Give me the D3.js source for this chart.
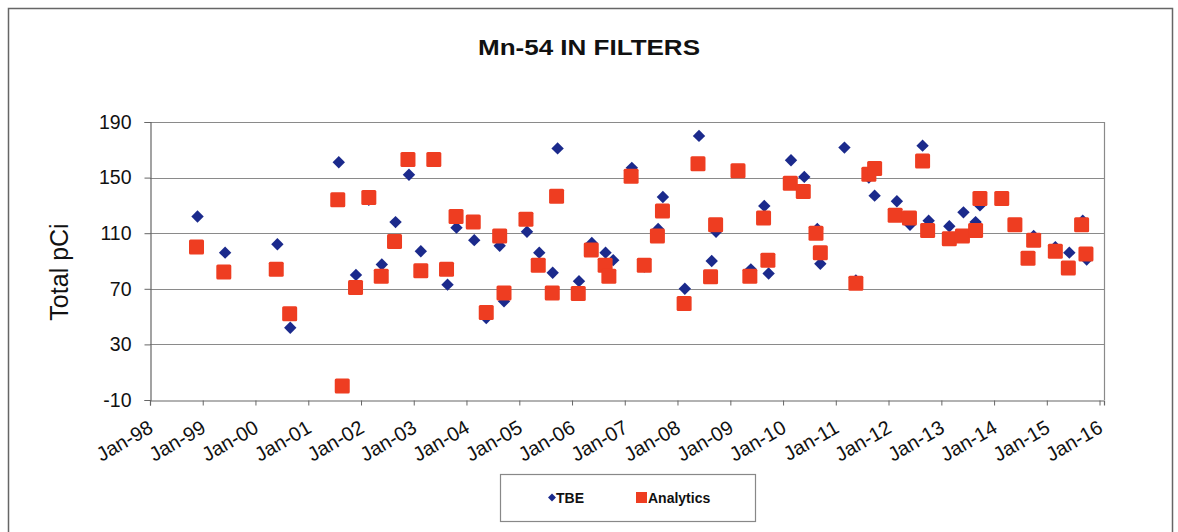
<!DOCTYPE html>
<html>
<head>
<meta charset="utf-8">
<script src="https://cdn.jsdelivr.net/npm/d3@7"></script>
<style>
  html, body { margin: 0; padding: 0; background: #fff; }
  svg { display: block; font-family: Arial, "Liberation Sans", sans-serif; }
</style>
</head>
<body>
<svg id="chart" width="1178" height="532"></svg>
<script>
const chartTitle = "Mn-54 IN FILTERS";
const yAxisLabel = "Total pCi";
const seriesNames = ["TBE", "Analytics"];
const yTickValues = [-10, 30, 70, 110, 150, 190];
const xTickLabels = ["Jan-98","Jan-99","Jan-00","Jan-01","Jan-02","Jan-03","Jan-04","Jan-05","Jan-06",
  "Jan-07","Jan-08","Jan-09","Jan-10","Jan-11","Jan-12","Jan-13","Jan-14","Jan-15","Jan-16"];

const tbeDates = ["1998-11-26","1999-06-05","2000-06-01","2000-08-29","2001-07-31","2001-11-27","2002-02-24",
  "2002-05-25","2002-08-28","2002-11-29","2003-02-19","2003-05-20","2003-08-23","2003-10-24","2004-02-24",
  "2004-05-17","2004-08-18","2004-09-17","2005-02-23","2005-05-19","2005-08-20","2005-09-23","2006-02-18",
  "2006-05-18","2006-08-21","2006-10-13","2007-02-19","2007-05-16","2007-08-20","2007-09-22","2008-02-21",
  "2008-05-29","2008-08-25","2008-09-24","2009-05-23","2009-08-24","2009-09-23","2010-02-25","2010-05-28",
  "2010-08-26","2010-09-16","2011-03-02","2011-05-20","2011-08-18","2011-09-27","2012-02-28","2012-05-29",
  "2012-08-24","2012-10-05","2013-02-25","2013-06-03","2013-08-26","2013-09-25","2014-10-02","2015-03-01",
  "2015-06-06","2015-09-07","2015-10-04"];
const tbeValues = [122,96,102,42,161,80,134,87.5,118,152,97,164,73,114,105,49,101,61,111,96,81.5,171,75.5,
  103,96,90.6,157,86,113,136,70,180,90,111,84,129.6,81,162.5,150.5,113,88,171.6,76,150,137,133,116,173,119,
  115,125,118,130,108,100,96,119,91];

const analyticsDates = ["1998-11-19","1999-05-27","2000-05-24","2000-08-25","2001-07-24","2001-08-24","2001-11-24",
  "2002-02-24","2002-05-21","2002-08-21","2002-11-22","2003-02-19","2003-05-20","2003-08-16","2003-10-21",
  "2004-02-17","2004-05-17","2004-08-18","2004-09-17","2005-02-16","2005-05-12","2005-08-17","2005-09-16",
  "2006-02-13","2006-05-14","2006-08-18","2006-09-13","2007-02-14","2007-05-16","2007-08-15","2007-09-19",
  "2008-02-16","2008-05-22","2008-08-17","2008-09-21","2009-02-23","2009-05-16","2009-08-19","2009-09-18",
  "2010-02-20","2010-05-21","2010-08-17","2010-09-16","2011-05-20","2011-08-18","2011-09-27","2012-02-16",
  "2012-05-25","2012-08-24","2012-09-28","2013-02-25","2013-05-27","2013-08-26","2013-09-25","2014-02-23",
  "2014-05-25","2014-08-24","2014-10-02","2015-03-01","2015-05-30","2015-08-30","2015-09-29"];
const analyticsValues = [100,82,84,52,134,0,71,135.7,79,104,163,83,163,84,122,118,53,108,67,120,87,67,136.6,
  66.7,98,87,79,151,87,108,126,59.5,160,78.6,116,155,79,121,90.6,146,140,110,96,74,152.4,156.5,123,121,162,
  112,106,108,112,135,135,116,92,105,97,85,116,95];

const parse = d3.timeParse("%Y-%m-%d");
const tbe = tbeDates.map((d, i) => ({ date: parse(d), value: tbeValues[i] }));
const analytics = analyticsDates.map((d, i) => ({ date: parse(d), value: analyticsValues[i] }));

const svg = d3.select("#chart");
const colors = { blue: "#1b2a8c", red: "#ee3d21", grid: "#8a8a8a", text: "#111" };

// outer frame
svg.append("rect").attr("x", 8.5).attr("y", 8.5).attr("width", 1164).attr("height", 540)
  .attr("fill", "#fff").attr("stroke", "#666").attr("stroke-width", 1.5);

const plot = { left: 150, right: 1104, top: 122, bottom: 400 };

const x = d3.scaleTime()
  .domain([new Date(1998, 0, 1), new Date(2016, 1, 1)])
  .range([plot.left, plot.right]);
const y = d3.scaleLinear().domain([-10, 190]).range([plot.bottom, plot.top]);

// title
svg.append("text").attr("x", 589).attr("y", 55).attr("text-anchor", "middle")
  .attr("font-size", 22).attr("font-weight", "bold").attr("fill", colors.text)
  .attr("textLength", 222).attr("lengthAdjust", "spacingAndGlyphs")
  .text(chartTitle);

// gridlines
svg.append("g").selectAll("line").data(yTickValues.filter(v => v !== -10)).join("line")
  .attr("x1", plot.left).attr("x2", plot.right)
  .attr("y1", d => Math.round(y(d)) + 0.5).attr("y2", d => Math.round(y(d)) + 0.5)
  .attr("stroke", colors.grid).attr("stroke-width", 1.2);

// right border
svg.append("line").attr("x1", plot.right + 0.5).attr("x2", plot.right + 0.5)
  .attr("y1", plot.top).attr("y2", plot.bottom).attr("stroke", colors.grid).attr("stroke-width", 1.2);

// y axis
const yAxis = d3.axisLeft(y).tickValues(yTickValues).tickSize(6).tickPadding(13).tickFormat(d => String(d));
const gy = svg.append("g").attr("transform", `translate(${plot.left + 0.5},0)`).call(yAxis);
gy.select(".domain").attr("stroke", "#666").attr("stroke-width", 1.2);
gy.selectAll(".tick line").attr("stroke", "#666");
gy.selectAll(".tick text").attr("font-size", 19.5).attr("fill", colors.text)
  .attr("font-family", "Arial, 'Liberation Sans', sans-serif");

// x axis
const xTickDates = xTickLabels.map((t, i) => new Date(1998 + i, 0, 1));
const xAxis = d3.axisBottom(x).tickValues(xTickDates).tickSize(5).tickFormat((d, i) => xTickLabels[i]);
const gx = svg.append("g").attr("transform", `translate(0,${plot.bottom + 0.5})`).call(xAxis);
gx.select(".domain").attr("stroke", "#666").attr("stroke-width", 1.2);
gx.selectAll(".tick line").attr("stroke", "#666");
gx.selectAll(".tick text").attr("font-size", 20).attr("fill", colors.text)
  .attr("font-family", "Arial, 'Liberation Sans', sans-serif")
  .attr("text-anchor", "end").attr("dy", 0).attr("y", 0)
  .attr("transform", "translate(4,31) rotate(-30)");

// y axis label
svg.append("text").attr("transform", "translate(68,272) rotate(-90)")
  .attr("text-anchor", "middle").attr("font-size", 25).attr("fill", colors.text)
  .text(yAxisLabel);

// markers
const diamond = d3.symbol().type(d3.symbolDiamond2).size(98);
svg.append("g").selectAll("path").data(tbe).join("path")
  .attr("d", diamond)
  .attr("transform", d => `translate(${x(d.date)},${y(d.value)})`)
  .attr("fill", colors.blue);

const sq = 15;
svg.append("g").selectAll("rect").data(analytics).join("rect")
  .attr("x", d => x(d.date) - sq / 2).attr("y", d => y(d.value) - sq / 2)
  .attr("width", sq).attr("height", sq).attr("rx", 1.5)
  .attr("fill", colors.red);

// legend
const lg = svg.append("g");
lg.append("rect").attr("x", 500.5).attr("y", 474.5).attr("width", 255).attr("height", 47)
  .attr("fill", "#fff").attr("stroke", "#888").attr("stroke-width", 1.2);
lg.append("path").attr("d", d3.symbol().type(d3.symbolDiamond2).size(40))
  .attr("transform", "translate(552,497.5)").attr("fill", colors.blue);
lg.append("text").attr("x", 556).attr("y", 503).attr("font-size", 14).attr("font-weight", "bold")
  .attr("fill", colors.text).text(seriesNames[0]);
lg.append("rect").attr("x", 636).attr("y", 492).attr("width", 11).attr("height", 11).attr("fill", colors.red);
lg.append("text").attr("x", 648).attr("y", 503).attr("font-size", 14).attr("font-weight", "bold")
  .attr("fill", colors.text).text(seriesNames[1]);
</script>
</body>
</html>
